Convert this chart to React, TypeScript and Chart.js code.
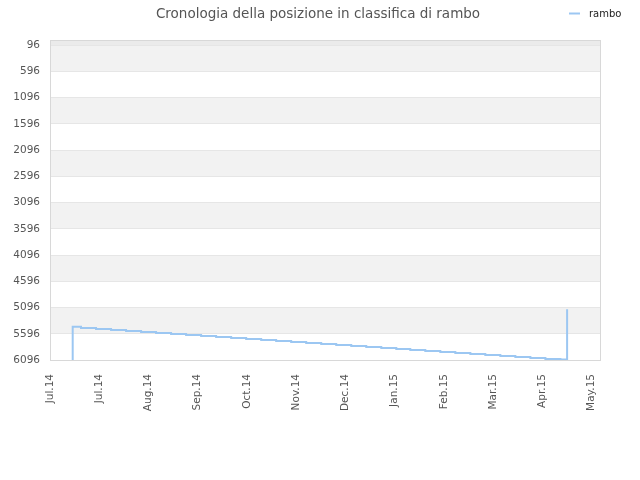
import React, { useEffect, useRef } from "react";
import { Chart, registerables } from "chart.js";

Chart.register(...registerables);

const TITLE = "Cronologia della posizione in classifica di rambo";
const SERIES_NAME = "rambo";

// x axis: tick positions in "months since axis start" and their labels
const MONTH_POS = [0, 1, 2, 3, 4, 5, 6, 7, 8, 9, 10, 11];
const MONTH_LABELS = [
  "Jul.14", "Jul.14", "Aug.14", "Sep.14", "Oct.14", "Nov.14",
  "Dec.14", "Jan.15", "Feb.15", "Mar.15", "Apr.15", "May.15",
];

// y axis ticks (rank, reversed)
const RANK_TICKS = [96, 596, 1096, 1596, 2096, 2596, 3096, 3596, 4096, 4596, 5096, 5596, 6096];

// series: time (months from axis start) and rank
const TIMES = [
  0.461, 0.63, 0.935, 1.24, 1.545, 1.85, 2.154, 2.459, 2.764, 3.069, 3.374, 3.679,
  3.984, 4.289, 4.593, 4.898, 5.203, 5.508, 5.813, 6.118, 6.423, 6.728, 7.033,
  7.317, 7.622, 7.927, 8.232, 8.537, 8.841, 9.146, 9.451, 9.756, 10.061, 10.366,
  10.502, 10.502,
];
const RANKS = [
  6096, 5461, 5486, 5505, 5524, 5543, 5562, 5581, 5600, 5619, 5639, 5658,
  5677, 5696, 5715, 5734, 5753, 5772, 5791, 5810, 5829, 5848, 5867,
  5886, 5905, 5924, 5943, 5962, 5981, 6000, 6020, 6039, 6058, 6077,
  6086, 5129,
];

const LINE_COLOR = "#9cc7f2";
const FONT = "'DejaVu Sans', sans-serif";

const decorPlugin = {
  id: "decor",
  beforeDraw(chart: any) {
    const { ctx, chartArea } = chart;
    const y = chart.scales.y;
    ctx.save();
    ctx.fillStyle = "#ffffff";
    ctx.fillRect(0, 0, chart.width, chart.height);
    // strip above first tick
    const firstPx = y.getPixelForValue(RANK_TICKS[0]);
    ctx.fillStyle = "#ebebeb";
    ctx.fillRect(chartArea.left, chartArea.top, chartArea.right - chartArea.left, firstPx - chartArea.top);
    // alternating bands
    ctx.fillStyle = "#f2f2f2";
    for (let i = 0; i < RANK_TICKS.length - 1; i += 2) {
      const a = y.getPixelForValue(RANK_TICKS[i]);
      const b = y.getPixelForValue(RANK_TICKS[i + 1]);
      ctx.fillRect(chartArea.left, a, chartArea.right - chartArea.left, b - a);
    }
    ctx.restore();
  },
  beforeDatasetsDraw(chart: any) {
    const { ctx, chartArea } = chart;
    ctx.save();
    ctx.strokeStyle = "#d8d8d8";
    ctx.lineWidth = 1;
    ctx.strokeRect(
      Math.round(chartArea.left) + 0.5,
      Math.round(chartArea.top) + 0.5,
      Math.round(chartArea.right - chartArea.left),
      Math.round(chartArea.bottom - chartArea.top)
    );
    ctx.restore();
  },
  afterDraw(chart: any) {
    const { ctx } = chart;
    ctx.save();
    ctx.font = `13.5px ${FONT}`;
    ctx.fillStyle = "#555555";
    ctx.textAlign = "center";
    ctx.textBaseline = "alphabetic";
    ctx.fillText(TITLE, 318, 18);
    // legend
    ctx.strokeStyle = LINE_COLOR;
    ctx.lineWidth = 2;
    ctx.beginPath();
    ctx.moveTo(569, 13.5);
    ctx.lineTo(580, 13.5);
    ctx.stroke();
    ctx.font = `10px ${FONT}`;
    ctx.fillStyle = "#222222";
    ctx.textAlign = "left";
    ctx.fillText(SERIES_NAME, 589, 16.5);
    ctx.restore();
  },
};

export default function App() {
  const ref = useRef<HTMLCanvasElement | null>(null);

  useEffect(() => {
    if (!ref.current) return;
    const data = TIMES.map((t, i) => ({ x: t, y: RANKS[i] }));
    const chart = new Chart(ref.current, {
      type: "line",
      data: {
        datasets: [
          {
            label: SERIES_NAME,
            data,
            borderColor: LINE_COLOR,
            backgroundColor: LINE_COLOR,
            borderWidth: 2,
            pointRadius: 0,
            pointHoverRadius: 0,
            stepped: "after",
            fill: false,
          },
        ],
      },
      options: {
        responsive: false,
        animation: false,
        devicePixelRatio: 1,
        layout: { padding: { left: 0, top: 40, right: 40, bottom: 0 } },
        plugins: {
          legend: { display: false },
          title: { display: false },
          tooltip: { enabled: false },
        },
        scales: {
          x: {
            type: "linear",
            min: 0,
            max: 11.17,
            afterBuildTicks: (scale: any) => {
              scale.ticks = MONTH_POS.map((v) => ({ value: v }));
            },
            afterFit: (scale: any) => {
              scale.height = 120;
            },
            grid: { display: false, drawTicks: false },
            border: { display: false },
            ticks: {
              autoSkip: false,
              minRotation: 90,
              maxRotation: 90,
              padding: 14,
              color: "#555555",
              font: { family: FONT, size: 10.5 },
              callback: (_v: any, i: number) => MONTH_LABELS[i],
            },
          },
          y: {
            type: "linear",
            reverse: true,
            min: -5,
            max: 6096,
            afterBuildTicks: (scale: any) => {
              scale.ticks = RANK_TICKS.map((v) => ({ value: v }));
            },
            afterFit: (scale: any) => {
              scale.width = 50;
            },
            grid: { color: "#e6e6e6", lineWidth: 1, drawTicks: false },
            border: { display: false },
            ticks: {
              autoSkip: false,
              padding: 10,
              color: "#555555",
              font: { family: FONT, size: 10.5 },
              callback: (v: any) => String(v),
            },
          },
        },
      },
      plugins: [decorPlugin],
    });
    return () => chart.destroy();
  }, []);

  return (
    <div style={{ position: "absolute", left: 0, top: 0, width: 640, height: 480, background: "#fff" }}>
      <canvas ref={ref} width={640} height={480} style={{ width: 640, height: 480 }} />
    </div>
  );
}
